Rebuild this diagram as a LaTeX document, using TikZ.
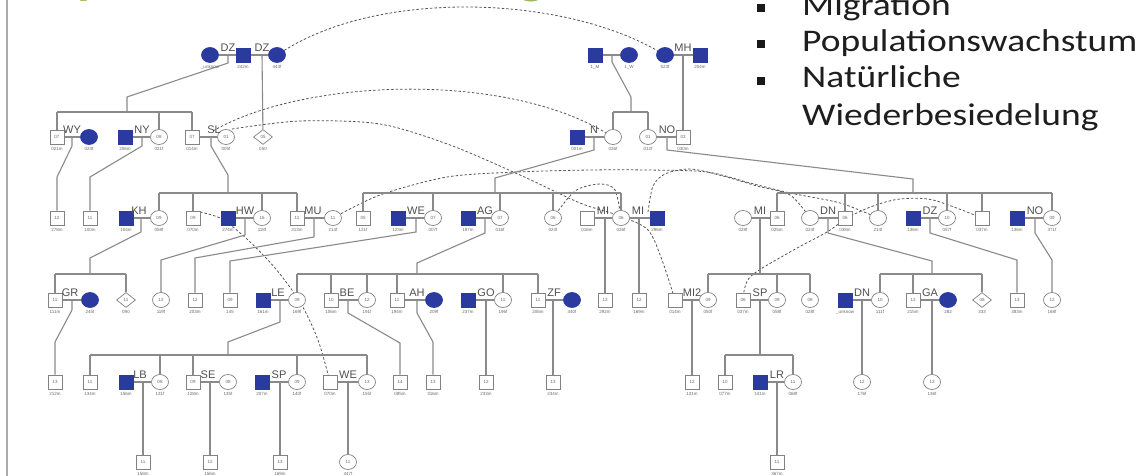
\documentclass[tikz,border=0pt]{standalone}
\usepackage{fontspec}
\usepackage{graphicx}
\setmainfont{Liberation Sans}
\newfontfamily\calib{Carlito}
\usetikzlibrary{shapes.geometric,backgrounds}
\definecolor{pblue}{RGB}{42,58,158}
\definecolor{bord}{RGB}{130,130,130}
\definecolor{lnc}{RGB}{138,138,138}
\definecolor{dsc}{RGB}{85,85,85}
\definecolor{idc}{RGB}{105,105,105}
\definecolor{mlc}{RGB}{80,80,80}
\definecolor{tgreen}{RGB}{155,187,89}
\definecolor{txc}{RGB}{30,30,30}
\definecolor{framec}{RGB}{170,170,170}
\newcommand{\pers}[6]{\node[#1] (#2) at (#3,#4) {#5}; \node[idl] (#2l) at (#3,#4+12) {#6};}
\newcommand{\mlab}[4]{\node[ml] (#1) at (#2,#3) {#4};}
\begin{document}
\begin{tikzpicture}[x=1pt,y=-1pt,
 base/.style={inner sep=0pt,line width=0.7pt,draw=bord,fill=white,text=idc,font=\fontsize{4.5}{5}\selectfont},
 sq/.style={base,rectangle,minimum width=14pt,minimum height=14pt},
 sqf/.style={sq,fill=pblue,draw=pblue},
 ci/.style={base,ellipse,minimum width=17pt,minimum height=15pt},
 cif/.style={ci,fill=pblue,draw=pblue},
 di/.style={base,diamond,minimum width=19pt,minimum height=15pt},
 idl/.style={inner sep=0pt,text=idc,font=\fontsize{4.5}{5}\selectfont},
 ml/.style={inner sep=0pt,text=mlc,font=\fontsize{11}{12}\selectfont},
 ln/.style={draw=lnc,line width=1.1pt},
 dl/.style={draw=dsc,line width=0.8pt,dash pattern=on 2.5pt off 2pt},
 bt/.style={inner sep=0pt,anchor=base west,text=txc,font=\calib\fontsize{31.5}{36}\selectfont},
 bul/.style={fill=black!90,minimum size=8pt,inner sep=0pt},
 ]
\useasboundingbox (0,0) rectangle (1148,476);

% title (clipped at top) and bullets
\node[anchor=base west,inner sep=0pt,text=tgreen,font=\calib\bfseries\fontsize{44}{48}\selectfont] (title) at (22,-5) {\scalebox{1.19}[1]{Populationsentwicklung}};
\node[bul] (u1) at (761,8) {};
\node[bul] (u2) at (761,44) {};
\node[bul] (u3) at (761,81) {};
\node[bt] (t1) at (802,16) {\scalebox{1.19}[1]{Migration}};
\node[bt] (t2) at (802,52) {\scalebox{1.19}[1]{Populationswachstum}};
\node[bt] (t3) at (802,88) {\scalebox{1.19}[1]{Natürliche}};
\node[bt] (t4) at (802,125) {\scalebox{1.19}[1]{Wiederbesiedelung}};

% generation 0
\pers{cif}{a1}{210}{55}{}{\_unknow}
\pers{sqf}{a2}{243}{55}{}{242m}
\pers{cif}{a3}{277}{55}{}{443f}
\pers{sqf}{a4}{595}{55}{}{1\_M}
\pers{cif}{a5}{629}{55}{}{1\_W}
\pers{cif}{a6}{665}{55}{}{523f}
\pers{sqf}{a7}{700}{55}{}{204m}
\mlab{ma1}{228}{48}{DZ}
\mlab{ma2}{262}{48}{DZ}
\mlab{ma3}{683}{48}{MH}

% generation 1
\pers{sq}{b1}{57}{137}{07}{021m}
\pers{cif}{b2}{89}{137}{}{024f}
\pers{sqf}{b3}{125}{137}{}{206m}
\pers{ci}{b4}{159}{137}{08}{021f}
\pers{sq}{b5}{192}{137}{07}{014m}
\pers{ci}{b6}{226}{137}{01}{005f}
\pers{di}{b7}{263}{137}{05}{050}
\pers{sqf}{b8}{577}{137}{}{001m}
\pers{ci}{b9}{613}{137}{}{026f}
\pers{ci}{b10}{648}{137}{01}{012f}
\pers{sq}{b11}{683}{137}{03}{030m}
\mlab{mb1}{72}{130}{WY}
\mlab{mb2}{142}{130}{NY}
\mlab{mb3}{214}{130}{SL}
\mlab{mb4}{594}{130}{N}
\mlab{mb5}{667}{130}{NO}

% generation 2
\pers{sq}{c1}{57}{218}{12}{278m}
\pers{sq}{c2}{90}{218}{11}{100m}
\pers{sqf}{c3}{126}{218}{}{104m}
\pers{ci}{c4}{159}{218}{09}{058f}
\pers{sq}{c5}{193}{218}{09}{070m}
\pers{sqf}{c6}{228}{218}{}{274m}
\pers{ci}{c7}{262}{218}{16}{118f}
\pers{sq}{c8}{297}{218}{11}{213m}
\pers{ci}{c9}{333}{218}{11}{214f}
\pers{sq}{c10}{363}{218}{05}{121f}
\pers{sqf}{c11}{398}{218}{}{123m}
\pers{ci}{c12}{433}{218}{07}{007f}
\pers{sqf}{c13}{468}{218}{}{187m}
\pers{ci}{c14}{500}{218}{07}{016f}
\pers{ci}{c15}{553}{218}{06}{024f}
\pers{sq}{c16}{587}{218}{}{016m}
\pers{ci}{c17}{621}{218}{06}{026f}
\pers{sqf}{c18}{657}{218}{}{296m}
\pers{ci}{c19}{743}{218}{}{028f}
\pers{sq}{c20}{777}{218}{06}{025m}
\pers{ci}{c21}{810}{218}{}{024f}
\pers{sq}{c22}{845}{218}{06}{038m}
\pers{ci}{c23}{878}{218}{}{214f}
\pers{sqf}{c24}{913}{218}{}{136m}
\pers{ci}{c25}{947}{218}{10}{057f}
\pers{sq}{c26}{982}{218}{}{037m}
\pers{sqf}{c27}{1017}{218}{}{136m}
\pers{ci}{c28}{1052}{218}{09}{371f}
\mlab{mc1}{139}{211}{KH}
\mlab{mc2}{245}{211}{HW}
\mlab{mc3}{313}{211}{MU}
\mlab{mc4}{416}{211}{WE}
\mlab{mc5}{485}{211}{AG}
\mlab{mc6}{603}{211}{MI}
\mlab{mc7}{638}{211}{MI}
\mlab{mc8}{760}{211}{MI}
\mlab{mc9}{828}{211}{DN}
\mlab{mc10}{930}{211}{DZ}
\mlab{mc11}{1035}{211}{NO}

% generation 3
\pers{sq}{d1}{55}{300}{11}{111m}
\pers{cif}{d2}{90}{300}{}{245f}
\pers{di}{d3}{126}{300}{11}{090}
\pers{ci}{d4}{161}{300}{12}{119f}
\pers{sq}{d5}{195}{300}{12}{203m}
\pers{sq}{d6}{230}{300}{09}{145}
\pers{sqf}{d7}{263}{300}{}{161m}
\pers{ci}{d8}{297}{300}{09}{169f}
\pers{sq}{d9}{331}{300}{10}{106m}
\pers{ci}{d10}{367}{300}{12}{191f}
\pers{sq}{d11}{397}{300}{11}{194m}
\pers{cif}{d12}{434}{300}{}{209f}
\pers{sqf}{d13}{468}{300}{}{237m}
\pers{ci}{d14}{503}{300}{11}{196f}
\pers{sq}{d15}{538}{300}{11}{206m}
\pers{cif}{d16}{572}{300}{}{340f}
\pers{sq}{d17}{605}{300}{13}{292m}
\pers{sq}{d18}{639}{300}{12}{169m}
\pers{sq}{d19}{675}{300}{}{014m}
\pers{ci}{d20}{708}{300}{09}{050f}
\pers{sq}{d21}{743}{300}{06}{037m}
\pers{ci}{d22}{777}{300}{09}{058f}
\pers{ci}{d23}{810}{300}{08}{028f}
\pers{sqf}{d24}{845}{300}{}{\_unknow}
\pers{ci}{d25}{880}{300}{10}{111f}
\pers{sq}{d26}{913}{300}{12}{215m}
\pers{cif}{d27}{948}{300}{}{282}
\pers{di}{d28}{982}{300}{08}{333}
\pers{sq}{d29}{1017}{300}{13}{383m}
\pers{ci}{d30}{1052}{300}{12}{168f}
\mlab{md1}{70}{293}{GR}
\mlab{md2}{278}{293}{LE}
\mlab{md3}{347}{293}{BE}
\mlab{md4}{417}{293}{AH}
\mlab{md5}{486}{293}{GO}
\mlab{md6}{554}{293}{ZF}
\mlab{md7}{692}{293}{MI2}
\mlab{md8}{760}{293}{SP}
\mlab{md9}{862}{293}{DN}
\mlab{md10}{930}{293}{GA}

% generation 4
\pers{sq}{e1}{55}{382}{13}{212m}
\pers{sq}{e2}{90}{382}{11}{134m}
\pers{sqf}{e3}{126}{382}{}{156m}
\pers{ci}{e4}{160}{382}{08}{131f}
\pers{sq}{e5}{193}{382}{09}{128m}
\pers{ci}{e6}{228}{382}{08}{135f}
\pers{sqf}{e7}{262}{382}{}{207m}
\pers{ci}{e8}{297}{382}{09}{140f}
\pers{sq}{e9}{330}{382}{}{070m}
\pers{ci}{e10}{367}{382}{13}{155f}
\pers{sq}{e11}{400}{382}{14}{085m}
\pers{sq}{e12}{433}{382}{13}{316m}
\pers{sq}{e13}{486}{382}{12}{233m}
\pers{sq}{e14}{553}{382}{13}{234m}
\pers{sq}{e15}{692}{382}{12}{131m}
\pers{sq}{e16}{725}{382}{10}{077m}
\pers{sqf}{e17}{760}{382}{}{141m}
\pers{ci}{e18}{793}{382}{11}{068f}
\pers{ci}{e19}{862}{382}{12}{176f}
\pers{ci}{e20}{932}{382}{13}{136f}
\mlab{me1}{140}{375}{LB}
\mlab{me2}{208}{375}{SE}
\mlab{me3}{279}{375}{SP}
\mlab{me4}{348}{375}{WE}
\mlab{me5}{777}{375}{LR}

% generation 5
\pers{sq}{f1}{143}{462}{11}{158m}
\pers{sq}{f2}{210}{462}{12}{156m}
\pers{sq}{f3}{280}{462}{13}{169m}
\pers{ci}{f4}{348}{462}{11}{347f}
\pers{sq}{f5}{777}{462}{11}{367m}

\begin{pgfonlayer}{background}
\fill[white] (0,0) rectangle (1148,476);
\draw[draw=framec,line width=2pt] (7,0) -- (7,476);

% dashed links between duplicates
\draw[dl] (a3) .. controls (380,-10) and (560,-5) .. (a6);
\draw[dl] (213,131) .. controls (300,80) and (500,70) .. (b9);
\draw[dl] plot[smooth] coordinates {(232,129) (300,121) (380,124) (450,145) (520,175) (580,203) (620,216) (648,230) (662,260) (d19)};
\draw[dl] plot[smooth] coordinates {(200,212) (222,219) (248,240) (275,268) (300,302) (318,340) (e9)};
\draw[dl] plot[smooth] coordinates {(c9) (380,195) (447,177) (517,172) (590,170) (647,170) (707,172) (750,183) (790,193) (840,203) (c23)};
\draw[dl] plot[smooth] coordinates {(c26) (933,200) (900,199) (873,206) (847,218) (827,232) (790,252) (750,277) (d21)};
\draw[dl] plot[smooth] coordinates {(c15) (575,191) (600,184) (615,190) (c17)};
\draw[dl] plot[smooth] coordinates {(648,212) (653,186) (665,174) (690,169) (723,176) (757,186) (790,195) (c21)};

% marriage lines
\foreach \p/\q in {a1/a2,a2/a3,a4/a5,a6/a7,b1/b2,b3/b4,b5/b6,b8/b9,b10/b11,
  c3/c4,c6/c7,c8/c9,c11/c12,c13/c14,c16/c17,c17/c18,c19/c20,c21/c22,c24/c25,c27/c28,
  d1/d2,d7/d8,d9/d10,d11/d12,d13/d14,d15/d16,d19/d20,d21/d22,d24/d25,d26/d27,
  e3/e4,e5/e6,e7/e8,e9/e10,e17/e18}
  \draw[ln] (\p) -- (\q);

% generation 0 -> 1
\draw[ln] (228,55) -- (228,63) -- (127,97) -- (127,112);
\draw[ln] (57,112) -- (192,112);
\draw[ln] (57,112) -- (b1);
\draw[ln] (159,112) -- (b4);
\draw[ln] (192,112) -- (b5);
\draw[ln] (262,55) -- (b7);
\draw[ln] (612,55) -- (612,62) -- (631,97) -- (631,112);
\draw[ln] (613,112) -- (648,112);
\draw[ln] (613,112) -- (b9);
\draw[ln] (648,112) -- (b10);
\draw[ln] (683,55) -- (b11);

% generation 1 -> 2
\draw[ln] (72,137) -- (72,146) -- (57,177) -- (c1);
\draw[ln] (142,137) -- (142,146) -- (90,177) -- (c2);
\draw[ln] (211,137) -- (211,146) -- (228,175) -- (228,193);
\draw[ln] (159,193) -- (297,193);
\foreach \n/\x in {c4/159,c5/193,c7/262,c8/297} \draw[ln] (\x,193) -- (\n);
\draw[ln] (594,137) -- (594,150) -- (495,178) -- (495,193);
\draw[ln] (363,193) -- (621,193);
\foreach \n/\x in {c10/363,c12/433,c14/500,c15/553,c17/621} \draw[ln] (\x,193) -- (\n);
\draw[ln] (667,137) -- (667,150) -- (913,179) -- (913,193);
\draw[ln] (777,193) -- (1052,193);
\foreach \n/\x in {c20/777,c22/845,c23/878,c25/947,c26/982,c28/1052} \draw[ln] (\x,193) -- (\n);

% generation 2 -> 3
\draw[ln] (141,218) -- (141,232) -- (90,258) -- (90,274);
\draw[ln] (55,274) -- (126,274);
\draw[ln] (55,274) -- (d1);
\draw[ln] (126,274) -- (d3);
\draw[ln] (245,218) -- (245,235) -- (161,260) -- (d4);
\draw[ln] (314,218) -- (314,237) -- (195,258) -- (d5);
\draw[ln] (416,218) -- (416,232) -- (230,261) -- (d6);
\draw[ln] (485,218) -- (485,233) -- (417,263) -- (417,274);
\draw[ln] (297,274) -- (538,274);
\foreach \n/\x in {d8/297,d9/331,d10/367,d11/397,d14/503,d15/538} \draw[ln] (\x,274) -- (\n);
\draw[ln] (605,218) -- (d17);
\draw[ln] (639,218) -- (d18);
\draw[ln] (760,218) -- (760,274);
\draw[ln] (708,274) -- (810,274);
\foreach \n/\x in {d20/708,d22/777,d23/810} \draw[ln] (\x,274) -- (\n);
\draw[ln] (828,218) -- (828,233) -- (932,261) -- (932,274);
\draw[ln] (880,274) -- (982,274);
\foreach \n/\x in {d25/880,d26/913,d28/982} \draw[ln] (\x,274) -- (\n);
\draw[ln] (930,218) -- (930,233) -- (1017,260) -- (d29);
\draw[ln] (1035,218) -- (1035,233) -- (1052,260) -- (d30);

% generation 3 -> 4
\draw[ln] (72,300) -- (72,310) -- (55,342) -- (e1);
\draw[ln] (280,300) -- (280,322) -- (228,342) -- (228,355);
\draw[ln] (90,355) -- (367,355);
\foreach \n/\x in {e2/90,e4/160,e5/193,e8/297,e10/367} \draw[ln] (\x,355) -- (\n);
\draw[ln] (348,300) -- (348,313) -- (400,343) -- (e11);
\draw[ln] (417,300) -- (417,313) -- (433,342) -- (e12);
\draw[ln] (486,300) -- (e13);
\draw[ln] (553,300) -- (e14);
\draw[ln] (692,300) -- (e15);
\draw[ln] (760,300) -- (760,355);
\draw[ln] (725,355) -- (793,355);
\draw[ln] (725,355) -- (e16);
\draw[ln] (793,355) -- (e18);
\draw[ln] (862,300) -- (e19);
\draw[ln] (932,300) -- (e20);

% generation 4 -> 5
\draw[ln] (143,382) -- (f1);
\draw[ln] (210,382) -- (f2);
\draw[ln] (280,382) -- (f3);
\draw[ln] (348,382) -- (f4);
\draw[ln] (777,382) -- (f5);
\end{pgfonlayer}
\end{tikzpicture}
\end{document}
